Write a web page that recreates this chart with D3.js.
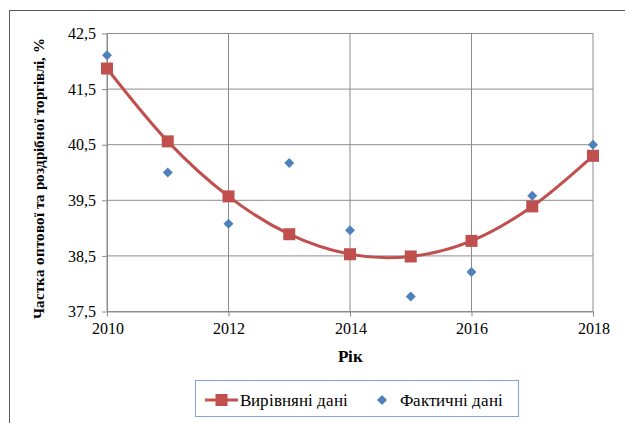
<!DOCTYPE html>
<html>
<head>
<meta charset="utf-8">
<script src="https://d3js.org/d3.v7.min.js"></script>
<style>
    @font-face { font-family: 'ChartSerif'; src: local('Liberation Serif'), local('LiberationSerif'), local('Times New Roman'); font-weight: normal; }
    @font-face { font-family: 'ChartSerif'; src: local('Liberation Serif Bold'), local('LiberationSerif-Bold'), local('Times New Roman Bold'); font-weight: bold; }
    body { margin: 0; font-family: 'ChartSerif', 'Liberation Serif', serif; }
</style>
</head>
<body>
<svg id="svg" width="625" height="423"></svg>
<script>
    let years = [2010, 2011, 2012, 2013, 2014, 2015, 2016, 2017, 2018];
    let fitted = [41.87, 40.56, 39.57, 38.89, 38.53, 38.49, 38.77, 39.39, 40.30];
    let actual = [42.11, 40.00, 39.08, 40.17, 38.96, 37.77, 38.21, 39.58, 40.50];
    let yTicks = [37.5, 38.5, 39.5, 40.5, 41.5, 42.5];
    let xTicks = [2010, 2012, 2014, 2016, 2018];
    let seriesNames = ['Вирівняні дані', 'Фактичні дані'];
    let yTitle = 'Частка оптової та роздрібної торгівлі, %';
    let xTitle = 'Рік';

    let red = '#c0504d';
    let blue = '#4f81bd';
    let grid = '#8c8c8c';
    let font = "ChartSerif, 'Liberation Serif', serif";

    let svg = d3.select('#svg');

    // outer frame, cut off at the right and bottom like the source image
    svg.append('rect')
        .attr('x', 9.5).attr('y', 10.5)
        .attr('width', 700).attr('height', 500)
        .attr('fill', 'none')
        .attr('stroke', '#595959');

    let xScale = d3.scaleLinear().domain([2010, 2018]).range([107, 593]);
    let yScale = d3.scaleLinear().domain([37.5, 42.5]).range([311.5, 33.5]);

    // gridlines
    svg.append('g').selectAll('line')
        .data(yTicks)
        .enter().append('line')
        .attr('x1', xScale(2010)).attr('x2', xScale(2018))
        .attr('y1', d => yScale(d)).attr('y2', d => yScale(d))
        .attr('stroke', grid);

    svg.append('g').selectAll('line')
        .data(xTicks)
        .enter().append('line')
        .attr('x1', d => xScale(d)).attr('x2', d => xScale(d))
        .attr('y1', yScale(37.5)).attr('y2', yScale(42.5))
        .attr('stroke', grid);

    let fmt = d => d3.format('.1f')(d).replace('.', ',');

    let yAxis = d3.axisLeft(yScale).tickValues(yTicks).tickFormat(fmt).tickSize(5).tickSizeOuter(0).tickPadding(6);
    let xAxis = d3.axisBottom(xScale).tickValues(xTicks).tickFormat(d3.format('d')).tickSize(5).tickSizeOuter(0).tickPadding(6);

    let yAxisGroup = svg.append('g').attr('transform', `translate(${xScale(2010)},0)`).call(yAxis);
    let xAxisGroup = svg.append('g').attr('transform', `translate(0,${yScale(37.5)})`).call(xAxis);

    [yAxisGroup, xAxisGroup].forEach(g => {
        g.attr('font-family', font).attr('font-size', 16);
        g.selectAll('path').attr('stroke', grid);
        g.selectAll('line').attr('stroke', grid);
        g.selectAll('text').attr('fill', '#000');
    });

    // axis titles
    svg.append('text')
        .attr('transform', `translate(44, ${(yScale(37.5) + yScale(42.5)) / 2 + 6}) rotate(-90)`)
        .attr('text-anchor', 'middle')
        .attr('font-family', font)
        .attr('font-weight', 'bold')
        .attr('font-size', 15)
        .text(yTitle);

    svg.append('text')
        .attr('x', xScale(2014))
        .attr('y', 362)
        .attr('text-anchor', 'middle')
        .attr('font-family', font)
        .attr('font-weight', 'bold')
        .attr('font-size', 17)
        .text(xTitle);

    // fitted line
    let line = d3.line()
        .x((d, i) => xScale(years[i]))
        .y(d => yScale(d))
        .curve(d3.curveCardinal.tension(0));

    svg.append('path')
        .datum(fitted)
        .attr('d', line)
        .attr('fill', 'none')
        .attr('stroke', red)
        .attr('stroke-width', 3);

    let sq = 12;
    svg.append('g').selectAll('rect')
        .data(fitted)
        .enter().append('rect')
        .attr('x', (d, i) => xScale(years[i]) - sq / 2)
        .attr('y', d => yScale(d) - sq / 2)
        .attr('width', sq).attr('height', sq)
        .attr('fill', red);

    let diamond = d3.symbol().type(d3.symbolDiamond2).size(64);
    svg.append('g').selectAll('path')
        .data(actual)
        .enter().append('path')
        .attr('d', diamond)
        .attr('transform', (d, i) => `translate(${xScale(years[i])},${yScale(d)})`)
        .attr('fill', blue);

    // legend
    let legend = svg.append('g');
    legend.append('rect')
        .attr('x', 195.5).attr('y', 380.5)
        .attr('width', 323).attr('height', 36)
        .attr('fill', '#fff')
        .attr('stroke', '#7ea6d8');

    let ly = 400;
    legend.append('line')
        .attr('x1', 205).attr('x2', 238)
        .attr('y1', ly).attr('y2', ly)
        .attr('stroke', red).attr('stroke-width', 3);
    legend.append('rect')
        .attr('x', 221.5 - sq / 2).attr('y', ly - sq / 2)
        .attr('width', sq).attr('height', sq)
        .attr('fill', red);
    legend.append('text')
        .attr('x', 240).attr('y', ly + 6)
        .attr('font-family', font)
        .attr('font-size', 17)
        .text(seriesNames[0]);

    legend.append('path')
        .attr('d', diamond)
        .attr('transform', `translate(382,${ly})`)
        .attr('fill', blue);
    legend.append('text')
        .attr('x', 400).attr('y', ly + 6)
        .attr('font-family', font)
        .attr('font-size', 17)
        .text(seriesNames[1]);
</script>
</body>
</html>
